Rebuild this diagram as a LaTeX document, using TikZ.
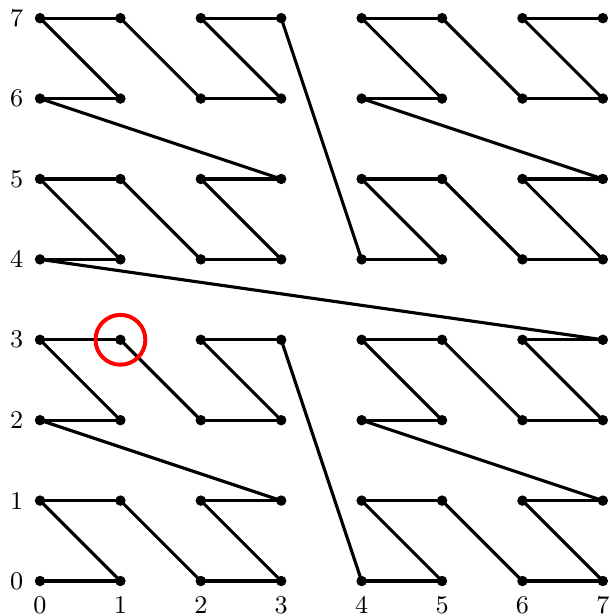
\documentclass[tikz,border=0pt]{standalone}
\begin{document}
\begin{tikzpicture}[x=1cm,y=1cm,
  dot/.style={circle,fill=black,inner sep=0pt,minimum size=3.7pt},
  curve/.style={line width=1.1pt,line join=round},
  lab/.style={font=\fontsize{9}{10}\selectfont,inner sep=0pt},
  mark circle/.style={draw=red,line width=1.4pt}]
\useasboundingbox (-0.4975,-0.435) rectangle (7.077,7.226);
\foreach \i in {0,...,63}{
  \pgfmathtruncatemacro{\xx}{mod(\i,2)+2*mod(div(\i,4),2)+4*mod(div(\i,16),2)}
  \pgfmathtruncatemacro{\yy}{mod(div(\i,2),2)+2*mod(div(\i,8),2)+4*mod(div(\i,32),2)}
  \coordinate (m\i) at (\xx,\yy);
}
\foreach \i in {0,...,62}{
  \pgfmathtruncatemacro{\j}{\i+1}
  \draw[curve] (m\i) -- (m\j);
}
\foreach \i in {0,...,63}{
  \node[dot] (d\i) at (m\i) {};
}
\foreach \k in {0,...,7}{
  \node[lab] (xl\k) at (\k,-0.30) {\k};
  \node[lab] (yl\k) at (-0.29,\k) {\k};
}
\draw[mark circle] (m11) circle (0.31);
\end{tikzpicture}
\end{document}
